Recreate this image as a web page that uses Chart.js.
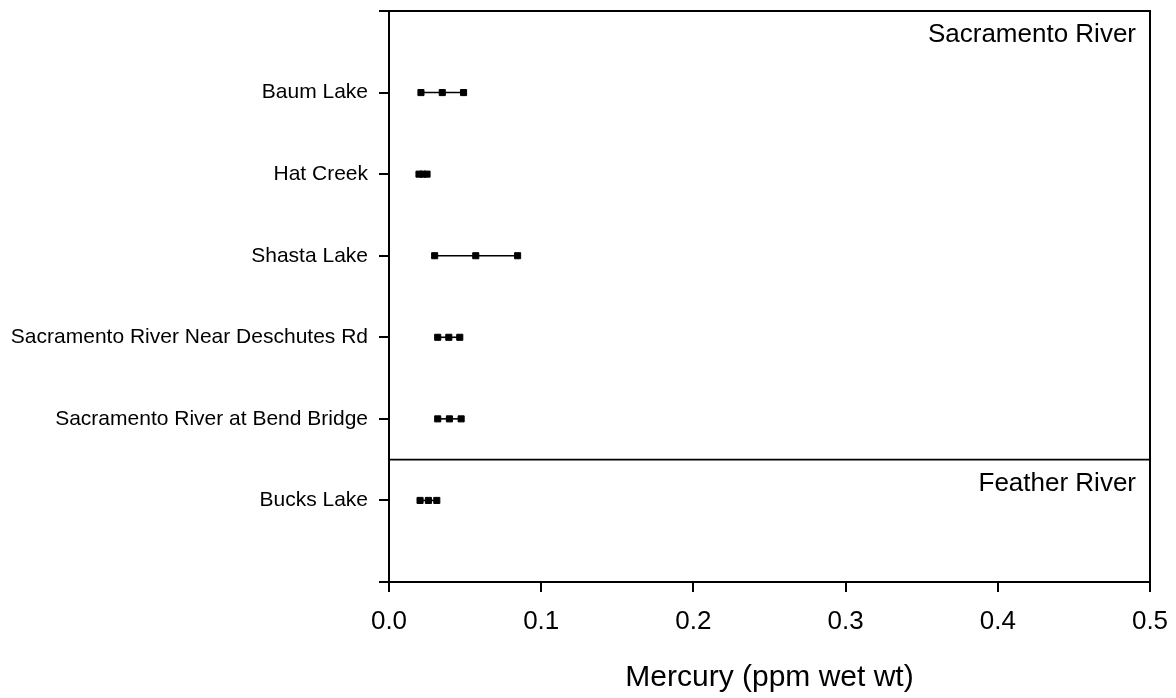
<!DOCTYPE html>
<html>
<head>
<meta charset="utf-8">
<script src="https://cdn.jsdelivr.net/npm/chart.js@4/dist/chart.umd.min.js"></script>
<style>
  html, body { margin: 0; padding: 0; background: #fff; }
  #wrap { width: 1176px; height: 698px; position: relative; }
</style>
</head>
<body>
<div id="wrap"><canvas id="mercuryChart"></canvas></div>
<script>
// Donnees (mercure, ppm poids humide)
const sites = [
    'Baum Lake',
    'Hat Creek',
    'Shasta Lake',
    'Sacramento River Near Deschutes Rd',
    'Sacramento River at Bend Bridge',
    'Bucks Lake'
];
const minValues  = [0.021, 0.0197, 0.030, 0.032, 0.032, 0.0204];
const meanValues = [0.035, 0.0223, 0.057, 0.0393, 0.0397, 0.0259];
const maxValues  = [0.049, 0.025, 0.0845, 0.0465, 0.0474, 0.0314];
const xTicks = [0, 0.1, 0.2, 0.3, 0.4, 0.5];
const regions = [
    { name: 'Sacramento River', from: 0, to: 5.5 },
    { name: 'Feather River', from: 5.5, to: 7 }
];

const FONT = "'Liberation Sans', Arial, sans-serif";

// Un jeu de donnees par site : min - moyenne - max
const datasets = sites.map((site, i) => ({
    label: site,
    data: [
        { x: minValues[i], y: i + 1 },
        { x: meanValues[i], y: i + 1 },
        { x: maxValues[i], y: i + 1 }
    ],
    showLine: true,
    borderColor: '#000',
    borderWidth: 1.6,
    backgroundColor: '#000',
    pointStyle: 'rect',
    pointRadius: 4.3,
    pointBorderWidth: 1,
    pointBorderColor: '#000',
    pointBackgroundColor: '#000'
}));

// Cadre, separation et noms des bassins
const regionPlugin = {
    id: 'regions',
    afterDraw(chart) {
        const ctx = chart.ctx;
        const area = chart.chartArea;
        const y = chart.scales.y;
        ctx.save();
        ctx.strokeStyle = '#000';
        ctx.lineWidth = 2;
        ctx.beginPath();
        ctx.moveTo(area.left - 10, area.top);
        ctx.lineTo(area.right, area.top);
        ctx.lineTo(area.right, area.bottom);
        ctx.stroke();

        ctx.lineWidth = 1.6;
        regions.forEach((r, i) => {
            const top = y.getPixelForValue(r.from);
            if (i > 0) {
                ctx.beginPath();
                ctx.moveTo(area.left, top);
                ctx.lineTo(area.right, top);
                ctx.stroke();
            }
            ctx.fillStyle = '#000';
            ctx.font = '26px ' + FONT;
            ctx.textAlign = 'right';
            ctx.textBaseline = 'middle';
            ctx.fillText(r.name, area.right - 14, top + 24);
        });
        ctx.restore();
    }
};

new Chart(document.getElementById('mercuryChart'), {
    type: 'scatter',
    data: { datasets: datasets },
    options: {
        responsive: true,
        maintainAspectRatio: false,
        animation: false,
        layout: { padding: { top: 11, right: 26, bottom: 0, left: 0 } },
        plugins: {
            legend: { display: false },
            tooltip: { enabled: false }
        },
        scales: {
            x: {
                type: 'linear',
                min: 0,
                max: 0.5,
                afterBuildTicks: function(scale) {
                    scale.ticks = xTicks.map(v => ({ value: v }));
                },
                afterFit: function(scale) {
                    scale.height = 116;
                    scale.paddingLeft = 0;
                    scale.paddingRight = 0;
                },
                ticks: {
                    color: '#000',
                    padding: 14,
                    font: { family: FONT, size: 26 },
                    callback: function(value) {
                        return value.toFixed(1);
                    }
                },
                grid: {
                    drawOnChartArea: false,
                    drawTicks: true,
                    tickLength: 10,
                    color: '#000',
                    lineWidth: 2
                },
                border: { display: true, color: '#000', width: 2 },
                title: {
                    display: true,
                    text: 'Mercury (ppm wet wt)',
                    color: '#000',
                    font: { family: FONT, size: 30 },
                    padding: { top: 0, bottom: 2 }
                }
            },
            y: {
                type: 'linear',
                min: 0,
                max: 7,
                reverse: true,
                afterBuildTicks: function(scale) {
                    scale.ticks = [0, 1, 2, 3, 4, 5, 6, 7].map(v => ({ value: v }));
                },
                afterFit: function(scale) {
                    scale.width = 389;
                    scale.paddingTop = 0;
                    scale.paddingBottom = 0;
                },
                ticks: {
                    color: '#000',
                    padding: 11,
                    font: { family: FONT, size: 21 },
                    callback: function(value) {
                        return sites[value - 1] || '';
                    }
                },
                grid: {
                    drawOnChartArea: false,
                    drawTicks: true,
                    tickLength: 10,
                    color: '#000',
                    lineWidth: 2
                },
                border: { display: true, color: '#000', width: 2 }
            }
        }
    },
    plugins: [regionPlugin]
});
</script>
</body>
</html>
